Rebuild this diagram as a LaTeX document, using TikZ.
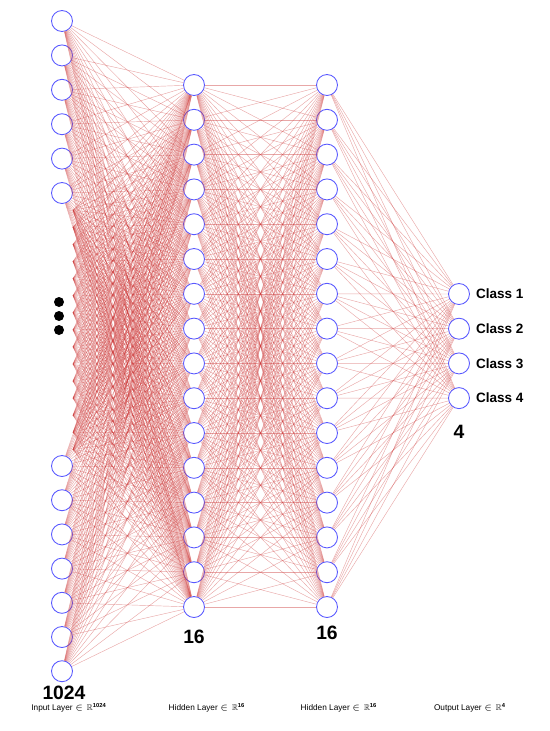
\documentclass[tikz,border=0pt]{standalone}
\usepackage{amsmath}
\usepackage{amssymb}
\usepackage{fontspec}
\setmainfont{Liberation Sans}
\usetikzlibrary{positioning}
\definecolor{weightred}{RGB}{205,60,60}
\tikzset{
	neuron/.style={circle, draw=blue!65!white, fill=white, line width=0.5pt, minimum size=0.42cm, inner sep=0pt},
	weight/.style={draw=weightred, opacity=0.45, line width=0.25pt},
	count/.style={font=\fontsize{11}{12}\selectfont\bfseries},
	classname/.style={font=\fontsize{7.7}{8}\selectfont\bfseries, anchor=west},
	layername/.style={font=\fontsize{4.7}{5}\selectfont, inner sep=0.5pt}
}
\newcommand{\bigdot}[1]{\fill[black] (59,#1) circle (5);}

\begin{document}
\begin{tikzpicture}[x=0.02cm, y=-0.02cm]
					
					\useasboundingbox (0,0) rectangle (549,731);
					
					% input layer, visible part
					\foreach \i in {1,...,6}
						\node[neuron] (in\i) at (62, {21+34.4*(\i-1)}) {};
					\foreach \i in {7,...,13}
						\node[neuron] (in\i) at (62, {466+34.2*(\i-7)}) {};
					
					% input layer, hidden part
					\foreach \j in {1,...,15}
						\coordinate (gap\j) at (73, {193+17.1*\j});
					
					% hidden layers
					\foreach \i in {1,...,16} {
						\node[neuron] (ha\i) at (194, {85+34.8*(\i-1)}) {};
						\node[neuron] (hb\i) at (327, {85+34.8*(\i-1)}) {};
					}
					
					% output layer
					\foreach \i in {1,...,4}
						\node[neuron] (out\i) at (459, {294+34.7*(\i-1)}) {};
					
					% weights
					\foreach \i in {1,...,13}
						\foreach \k in {1,...,16}
							\draw[weight] (in\i) -- (ha\k);
					\foreach \j in {1,...,15}
						\foreach \k in {1,...,16}
							\draw[weight] (gap\j) -- (ha\k);
					\foreach \i in {1,...,16}
						\foreach \k in {1,...,16}
							\draw[weight] (ha\i) -- (hb\k);
					\foreach \i in {1,...,16}
						\foreach \k in {1,...,4}
							\draw[weight] (hb\i) -- (out\k);
					
					% dots
					\bigdot{302}
					\bigdot{316}
					\bigdot{330}
					
					% class names
					\foreach \i in {1,...,4}
						\node[classname] (cls\i) [right=0pt of out\i] {Class \i};
					
					% sizes
					\node[count, inner sep=0.5pt] (nin) at (64, 693) {1024};
					\node[count] (nha) [below=0.12cm of ha16] {16};
					\node[count] (nhb) [below=0.04cm of hb16] {16};
					\node[count] (nout) [below=0.2cm of out4] {4};
					
					% layer names
					\node[layername] (lin) at (69, 708) {Input Layer $\in\mathbb{R}^{\mathbf{1024}}$};
					\node[layername] (lha) at (207, 708) {Hidden Layer $\in\mathbb{R}^{\mathbf{16}}$};
					\node[layername] (lhb) at (339, 708) {Hidden Layer $\in\mathbb{R}^{\mathbf{16}}$};
					\node[layername] (lout) at (470, 708) {Output Layer $\in\mathbb{R}^{\mathbf{4}}$};
										
				\end{tikzpicture}
\end{document}
